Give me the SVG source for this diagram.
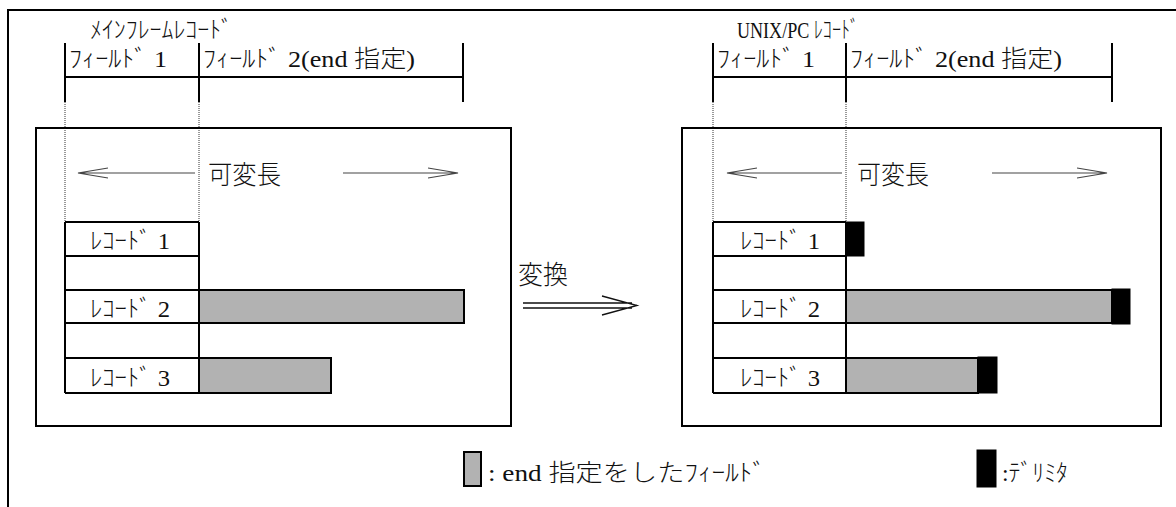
<svg xmlns="http://www.w3.org/2000/svg" width="1176" height="507" viewBox="0 0 1176 507">
<style>
text{font-family:"Liberation Serif","Noto Sans CJK JP",serif;font-size:24px;fill:#111;font-weight:300}
.big{font-size:26px}
.thick{fill:none;stroke:#000;stroke-width:2}
.dot{fill:none;stroke:#333;stroke-width:1;stroke-dasharray:1 1}
.arr{fill:none;stroke:#444;stroke-width:1.2}
.gray{fill:#b2b2b2;stroke:#000;stroke-width:2}
.blk{fill:#000;stroke:#000;stroke-width:1}
</style>
<rect width="1176" height="507" fill="#fff"/>
<path class="thick" d="M8,507 V10 H1176"/>

<g id="mainframe">
  <text x="90" y="38" textLength="143" lengthAdjust="spacingAndGlyphs">ﾒｲﾝﾌﾚｰﾑﾚｺｰﾄﾞ</text>
  <path class="thick" d="M65,43 V102 M199,43 V102 M463,43 V102 M65,77 H463"/>
  <text x="69" y="67" textLength="98" lengthAdjust="spacingAndGlyphs">ﾌｨｰﾙﾄﾞ 1</text>
  <text x="203" y="67" textLength="212" lengthAdjust="spacingAndGlyphs">ﾌｨｰﾙﾄﾞ 2(end 指定)</text>
  <path class="dot" d="M65,102 V222 M199,102 V222"/>
  <rect class="thick" x="36" y="128" width="475" height="298"/>
  <text class="big" x="208" y="184" textLength="73" lengthAdjust="spacingAndGlyphs">可変長</text>
  <rect class="gray" x="199" y="290" width="265" height="33"/>
  <rect class="gray" x="199" y="358" width="132" height="35"/>
  <path class="thick" d="M65,222 V393 M199,222 V393 M65,222 H199 M65,256 H199 M65,290 H199 M65,323 H199 M65,358 H199 M65,393 H199"/>
  <text x="90" y="249" textLength="80" lengthAdjust="spacingAndGlyphs">ﾚｺｰﾄﾞ 1</text>
  <text x="90" y="317" textLength="80" lengthAdjust="spacingAndGlyphs">ﾚｺｰﾄﾞ 2</text>
  <text x="90" y="386" textLength="80" lengthAdjust="spacingAndGlyphs">ﾚｺｰﾄﾞ 3</text>
</g>

<g id="unixpc">
  <text x="737" y="38" textLength="122" lengthAdjust="spacingAndGlyphs">UNIX/PC ﾚｺｰﾄﾞ</text>
  <path class="thick" d="M713,43 V102 M846,43 V102 M1112,43 V102 M713,77 H1112"/>
  <text x="717" y="67" textLength="98" lengthAdjust="spacingAndGlyphs">ﾌｨｰﾙﾄﾞ 1</text>
  <text x="850" y="67" textLength="212" lengthAdjust="spacingAndGlyphs">ﾌｨｰﾙﾄﾞ 2(end 指定)</text>
  <path class="dot" d="M713,102 V222 M846,102 V222"/>
  <rect class="thick" x="682" y="128" width="479" height="298"/>
  <text class="big" x="857" y="184" textLength="72" lengthAdjust="spacingAndGlyphs">可変長</text>
  <rect class="blk" x="846" y="222" width="18" height="34"/>
  <rect class="gray" x="846" y="290" width="266" height="33"/>
  <rect class="blk" x="1112" y="289" width="18" height="35"/>
  <rect class="gray" x="846" y="358" width="132" height="35"/>
  <rect class="blk" x="978" y="357" width="19" height="36"/>
  <path class="thick" d="M713,222 V393 M846,222 V393 M713,222 H846 M713,256 H846 M713,290 H846 M713,323 H846 M713,358 H846 M713,393 H846"/>
  <text x="740" y="249" textLength="80" lengthAdjust="spacingAndGlyphs">ﾚｺｰﾄﾞ 1</text>
  <text x="740" y="317" textLength="80" lengthAdjust="spacingAndGlyphs">ﾚｺｰﾄﾞ 2</text>
  <text x="740" y="386" textLength="80" lengthAdjust="spacingAndGlyphs">ﾚｺｰﾄﾞ 3</text>
</g>

<g id="convert">
  <text class="big" x="518" y="284" textLength="50" lengthAdjust="spacingAndGlyphs">変換</text>
</g>

<g id="legend">
  <rect class="gray" x="464" y="452" width="17" height="34"/>
  <text x="488" y="481" textLength="278" lengthAdjust="spacingAndGlyphs">: end 指定をしたﾌｨｰﾙﾄﾞ</text>
  <rect class="blk" x="977" y="450" width="19" height="37"/>
  <text x="1002" y="481" textLength="66" lengthAdjust="spacingAndGlyphs">:ﾃﾞﾘﾐﾀ</text>
</g>

<g id="connectors">
  <path class="arr" d="M195,173 H78 M108,168 L78,173 L108,178"/>
  <path class="arr" d="M343,173 H458 M428,168 L458,173 L428,178"/>
  <path class="arr" d="M842,173 H727 M757,168 L727,173 L757,178"/>
  <path class="arr" d="M992,173 H1107 M1077,168 L1107,173 L1077,178"/>
  <path fill="none" stroke="#111" stroke-width="1.3" d="M523,303 H632 M523,308 H632 M602,296 L637,305.5 L602,315"/>
</g>
</svg>
